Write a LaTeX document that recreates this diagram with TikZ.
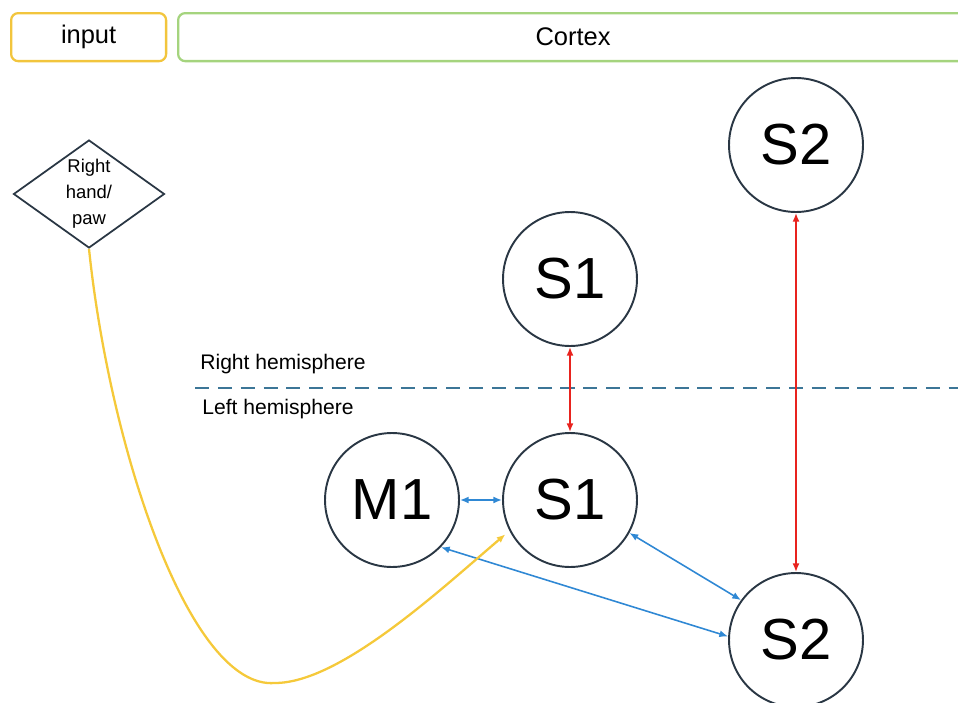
\documentclass[tikz,border=0pt]{standalone}
\usepackage{fontspec}
\setmainfont{Liberation Sans}
\usetikzlibrary{shapes.geometric,arrows.meta}

\definecolor{inputyellow}{HTML}{F2C53D}
\definecolor{cortexgreen}{HTML}{A5D47E}
\definecolor{linkblue}{HTML}{2F88D4}
\definecolor{linkred}{HTML}{E8231E}
\definecolor{feedyellow}{HTML}{F5C93A}
\definecolor{ringgrey}{HTML}{2A3744}
\definecolor{splitblue}{HTML}{3C7697}

\begin{document}
\begin{tikzpicture}[
        x=0.02cm, y=-0.02cm,
        header/.style={
            rectangle,
            rounded corners=4pt,
            line width=1.3pt,
            anchor=north west,
            inner sep=0pt,
            font=\fontsize{14.5}{17}\selectfont
        },
        area/.style={
            circle,
            draw=ringgrey,
            line width=1.1pt,
            minimum size=2.68cm,
            inner sep=0pt,
            font=\fontsize{33}{39}\selectfont
        },
        handbox/.style={
            diamond,
            draw=ringgrey,
            line width=1pt,
            minimum width=3.02cm,
            minimum height=2.16cm,
            inner sep=0pt
        },
        sidelabel/.style={
            anchor=west,
            inner sep=0pt,
            font=\fontsize{12}{14}\selectfont
        },
        bluelink/.style={
            <->,
            >={Latex[length=5pt,width=4pt]},
            draw=linkblue,
            line width=0.9pt
        },
        redlink/.style={
            <->,
            >={Latex[length=5pt,width=4pt]},
            draw=linkred,
            line width=0.9pt
        },
        feed/.style={
            ->,
            >={Latex[length=5pt,width=4pt]},
            draw=feedyellow,
            line width=1.3pt,
            shorten >=3pt
        }
    ]
        \clip (0,0) rectangle (958,703);
        \useasboundingbox (0,0) rectangle (958,703);

        % header row
        \node[header, draw=inputyellow, minimum width=3.1cm, minimum height=0.96cm] (input) at (10,12) {input};
        \node[header, draw=cortexgreen, minimum width=15.8cm, minimum height=0.96cm] (cortex) at (177,12) {Cortex};

        % stimulus
        \node[handbox] (hand) at (89,194) {};
        \node[align=center, inner sep=0pt, font=\fontsize{10.5}{14.8}\selectfont] (handtext) at (hand) {Right\\hand/\\paw};

        % hemispheres
        \node[sidelabel] (rightlabel) at (200,364) {Right hemisphere};
        \node[sidelabel] (leftlabel) at (202,409) {Left hemisphere};
        \coordinate (splitA) at (195,388);
        \coordinate (splitB) at (958,388);
        \draw[splitblue, line width=1pt, dash pattern=on 8pt off 5pt] (splitA) -- (splitB);

        % areas
        \node[area] (sTwoR) at (796,145) {S2};
        \node[area] (sOneR) at (570,279) {S1};
        \node[area] (mOne) at (392,500) {M1};
        \node[area] (sOneL) at (570,500) {S1};
        \node[area] (sTwoL) at (796,640) {S2};

        % connections
        \draw[redlink] (sOneR.south) -- (sOneL.north);
        \draw[redlink] (sTwoR.south) -- (sTwoL.north);
        \draw[bluelink] (mOne.east) -- (sOneL.west);
        \draw[bluelink] (sOneL.-29) -- (sTwoL.144);
        \draw[bluelink] (mOne.-44) -- (sTwoL.177);

        % input path
        \coordinate (bend) at (275,683);
        \draw[feed] (hand.south) .. controls (110,450) and (190,690) .. (bend)
            .. controls (340,683) and (440,590) .. (sOneL.207);

    \end{tikzpicture}
\end{document}
